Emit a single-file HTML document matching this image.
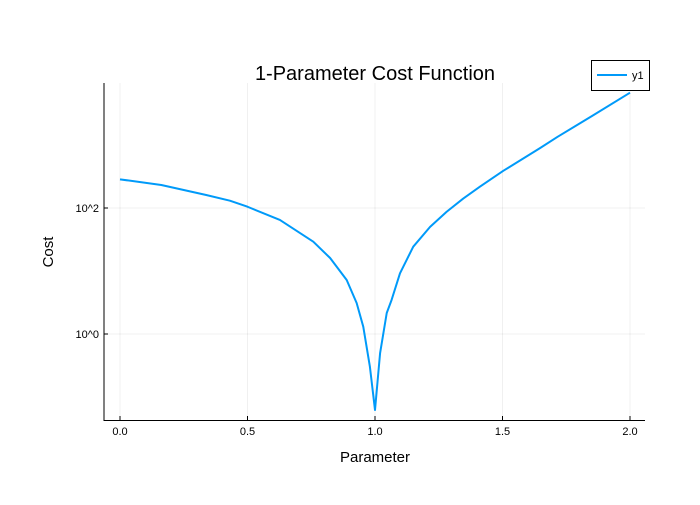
<!DOCTYPE html>
<html><head><meta charset="utf-8"><style>
body{margin:0;background:#fff;font-family:"Liberation Sans",sans-serif}
</style></head><body>
<svg width="700" height="500" xmlns="http://www.w3.org/2000/svg" font-family="Liberation Sans, sans-serif">
<g id="grid"></g>
<line x1="104" y1="83" x2="104" y2="421" stroke="#000"/>
<line x1="104" y1="420.5" x2="645" y2="420.5" stroke="#000"/>
<g id="ticks"></g>
<path id="line" fill="none" stroke="#009af9" stroke-width="2" stroke-linejoin="round"/>
<text x="375" y="80" font-size="20" text-anchor="middle">1-Parameter Cost Function</text>
<text x="375" y="462" font-size="15" text-anchor="middle">Parameter</text>
<text x="53" y="252" font-size="15" text-anchor="middle" transform="rotate(-90 53 252)">Cost</text>
<g>
<rect x="591.5" y="60.5" width="58" height="30" fill="#fff" stroke="#000"/>
<line x1="597" y1="75" x2="627" y2="75" stroke="#009af9" stroke-width="2"/>
<text x="632" y="79" font-size="11">y1</text>
</g>
</svg>
<script>
const xs=[0,0.162,0.338,0.431,0.5,0.627,0.758,0.824,0.889,0.928,0.954,0.98,1.0,1.02,1.046,1.065,1.098,1.15,1.216,1.281,1.346,1.412,1.503,1.647,1.716,1.851,2.0];
const logCost=[2.455,2.365,2.206,2.116,2.02,1.81,1.465,1.206,0.857,0.492,0.116,-0.519,-1.206,-0.302,0.333,0.54,0.963,1.386,1.70,1.94,2.15,2.34,2.59,2.95,3.13,3.46,3.83];
const xTicks=[0,0.5,1.0,1.5,2.0];
const xTickLabels=["0.0","0.5","1.0","1.5","2.0"];
const yTicks=[0,2];
const yTickLabels=["10^0","10^2"];
const X=v=>120+255*v, Y=v=>334-63*v;
const NS="http://www.w3.org/2000/svg";
const grid=document.getElementById('grid'),ticks=document.getElementById('ticks');
xTicks.forEach((t,i)=>{
 const l=document.createElementNS(NS,'line');
 
 
 l.setAttribute('x1',X(t));l.setAttribute('x2',X(t));l.setAttribute('y1',83);l.setAttribute('y2',420);
 l.setAttribute('stroke','#000');l.setAttribute('stroke-opacity','0.06');grid.appendChild(l);
 const tk=document.createElementNS(NS,'line');
 
 
 tk.setAttribute('x1',X(t));tk.setAttribute('x2',X(t));tk.setAttribute('y1',420);tk.setAttribute('y2',416);
 tk.setAttribute('stroke','#000');ticks.appendChild(tk);
 const tx=document.createElementNS(NS,'text');
 
 
 tx.setAttribute('x',X(t));tx.setAttribute('y',435);tx.setAttribute('font-size','11');tx.setAttribute('text-anchor','middle');
 tx.textContent=xTickLabels[i];ticks.appendChild(tx);
});
yTicks.forEach((t,i)=>{
 const l=document.createElementNS(NS,'line');
 
 
 l.setAttribute('x1',104);l.setAttribute('x2',645);l.setAttribute('y1',Y(t));l.setAttribute('y2',Y(t));
 l.setAttribute('stroke','#000');l.setAttribute('stroke-opacity','0.06');grid.appendChild(l);
 const tk=document.createElementNS(NS,'line');
 
 
 tk.setAttribute('x1',104);tk.setAttribute('x2',108);tk.setAttribute('y1',Y(t));tk.setAttribute('y2',Y(t));
 tk.setAttribute('stroke','#000');ticks.appendChild(tk);
 const tx=document.createElementNS(NS,'text');
 
 
 tx.setAttribute('x',99);tx.setAttribute('y',Y(t)+4);tx.setAttribute('font-size','11');tx.setAttribute('text-anchor','end');
 tx.textContent=yTickLabels[i];ticks.appendChild(tx);
});
document.getElementById('line').setAttribute('d',xs.map((x,i)=>(i?'L':'M')+X(x)+' '+Y(logCost[i])).join(' '));
</script>
</body></html>
